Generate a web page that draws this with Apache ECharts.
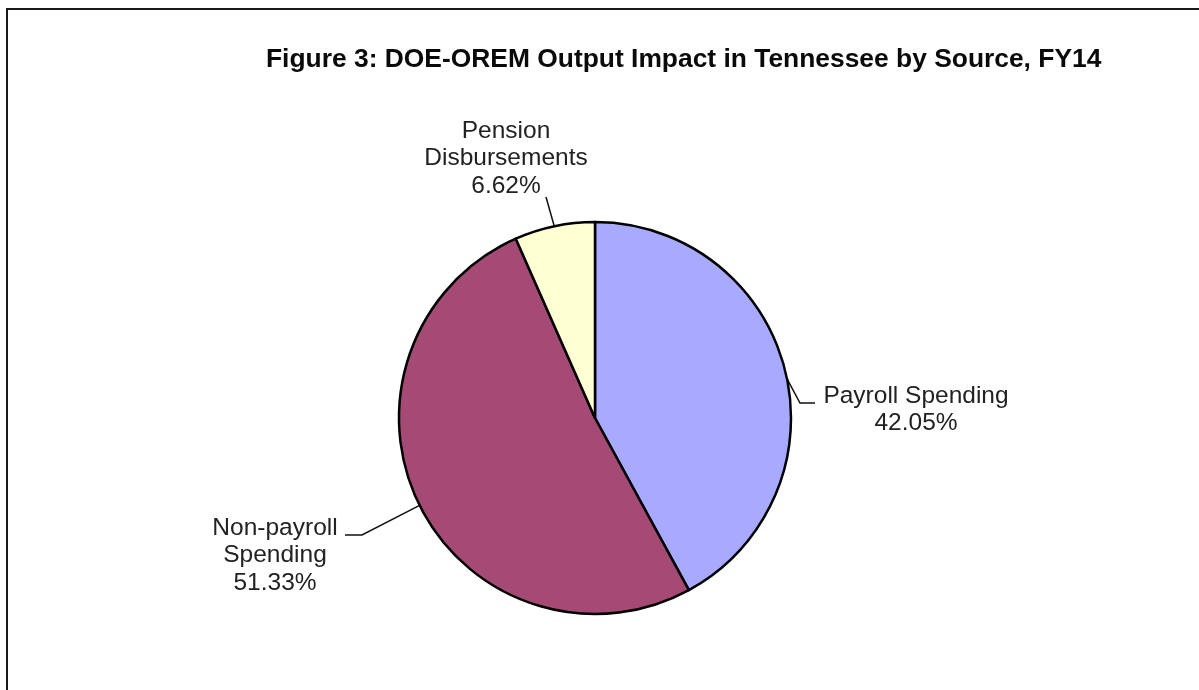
<!DOCTYPE html>
<html>
<head>
<meta charset="utf-8">
<script src="https://cdn.jsdelivr.net/npm/echarts@6/dist/echarts.min.js"></script>
<style>
html,body{margin:0;padding:0;background:#fff;}
#chart{width:1199px;height:690px;}
</style>
</head>
<body>
<div id="chart"></div>
<script>
// ---- data ----
var titleText = 'Figure 3: DOE-OREM Output Impact in Tennessee by Source, FY14';
var categories = ['Payroll Spending', 'Non-payroll\nSpending', 'Pension\nDisbursements'];
var shares = [42.05, 51.33, 6.62];
var sliceColors = ['#a8aaff', '#a54a74', '#ffffd4'];

// ---- layout (positions only) ----
var pieCenter = [595, 418];
var pieRadius = 196;
// label anchor (centre x, top y) and leader-line geometry
var labelPos = [
  {x: 916, y: 382, attachDeg: 78.5, elbow: [800, 403], end: [815, 403]},
  {x: 275, y: 514, attachDeg: 243.5, elbow: [362, 535], end: [345, 535]},
  {x: 506, y: 117, attachDeg: 348, elbow: [546, 197], end: [546, 197]}
];

function edgePoint(deg) {
  var a = deg * Math.PI / 180;
  return [pieCenter[0] + pieRadius * Math.sin(a), pieCenter[1] - pieRadius * Math.cos(a)];
}

var chart = echarts.init(document.getElementById('chart'), null, {renderer: 'canvas'});
var option = {
  animation: false,
  backgroundColor: '#ffffff',
  title: {
    text: titleText,
    left: 261,
    top: 42,
    textStyle: {
      fontFamily: 'Liberation Sans, Arial, sans-serif',
      fontSize: 26.4,
      fontWeight: 'bold',
      color: '#0a0a0a'
    }
  },
  graphic: [{
    type: 'rect',
    silent: true,
    shape: {x: 7, y: 9, width: 1400, height: 900},
    style: {fill: null, stroke: '#1a1a1a', lineWidth: 2}
  }],
  series: [{
    type: 'pie',
    center: pieCenter,
    radius: pieRadius,
    startAngle: 90,
    clockwise: true,
    avoidLabelOverlap: false,
    emphasis: {disabled: true},
    itemStyle: {borderColor: '#000', borderWidth: 2.5},
    label: {
      show: true,
      formatter: '{b}\n{d}%',
      fontFamily: 'Liberation Sans, Arial, sans-serif',
      fontSize: 24.5,
      lineHeight: 27.5,
      color: '#222',
      align: 'center'
    },
    labelLine: {show: true, lineStyle: {color: '#111', width: 1.5}},
    labelLayout: function (params) {
      var p = labelPos[params.dataIndex];
      return {
        x: p.x,
        y: p.y,
        align: 'center',
        verticalAlign: 'top',
        labelLinePoints: [edgePoint(p.attachDeg), p.elbow, p.end]
      };
    },
    data: categories.map(function (c, i) {
      return {name: c, value: shares[i], itemStyle: {color: sliceColors[i]}};
    })
  }]
};
chart.setOption(option);
</script>
</body>
</html>
